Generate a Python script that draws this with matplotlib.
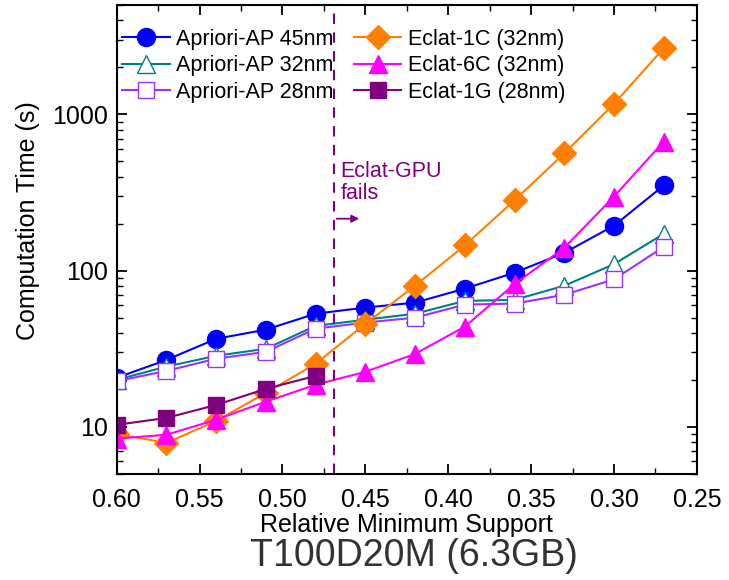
import numpy as np
import matplotlib
matplotlib.use("Agg")
import matplotlib.pyplot as plt
from matplotlib.ticker import NullFormatter, MultipleLocator

plt.rcParams['font.family'] = ['Liberation Sans', 'DejaVu Sans']

support = [0.60, 0.57, 0.54, 0.51, 0.48, 0.45, 0.42, 0.39, 0.36, 0.33, 0.30, 0.27]

apriori_45 = [20.6, 26.8, 36.6, 41.9, 53, 58, 62.4, 76.7, 97, 130, 194, 351]
apriori_32 = [20, 24.3, 28.5, 31.6, 44.3, 48.5, 53, 64, 65, 80, 110, 172]
apriori_28 = [19.6, 22.8, 27.3, 30.2, 42.5, 46.5, 50, 60.6, 61.5, 70, 88, 142]
eclat_1c = [9.0, 7.9, 10.9, 16.5, 25.3, 45.7, 80, 145, 282, 563, 1170, 2650]
eclat_6c = [8.4, 8.9, 11.1, 14.5, 18.6, 22.5, 29.3, 43.8, 82, 140, 298, 670]
support_gpu = [0.60, 0.57, 0.54, 0.51, 0.48]
eclat_1g = [10.3, 11.4, 13.8, 17.5, 21.2]

fig = plt.figure(figsize=(7.29, 5.8), dpi=100)
ax = fig.add_axes([0.160, 0.183, 0.796, 0.808])

ax.plot(support, apriori_45, color='#0000ff', marker='o', markersize=13, lw=1.5,
        label='Apriori-AP 45nm')
ax.plot(support, apriori_32, color='#008080', marker='^', markersize=13, lw=1.5,
        markerfacecolor='white', markeredgecolor='#008080', label='Apriori-AP 32nm')
ax.plot(support, apriori_28, color='#9933ff', marker='s', markersize=11, lw=1.5,
        markerfacecolor='white', markeredgecolor='#9933ff', label='Apriori-AP 28nm')
ax.plot(support, eclat_1c, color='#ff8000', marker='D', markersize=12, lw=1.5,
        label='Eclat-1C (32nm)')
ax.plot(support, eclat_6c, color='#ff00ff', marker='^', markersize=13, lw=1.5,
        label='Eclat-6C (32nm)')
ax.plot(support_gpu, eclat_1g, color='#800080', marker='s', markersize=11, lw=1.5,
        label='Eclat-1G (28nm)')

# Eclat-GPU failure marker
ax.axvline(0.469, color='#800080', ls=(0, (5, 4)), lw=1.5)
ax.text(0.465, 500, 'Eclat-GPU\nfails', color='#800080', fontsize=15.5,
        ha='left', va='top', linespacing=1.05)
ax.annotate('', xy=(0.452, 215), xytext=(0.469, 215),
            arrowprops=dict(arrowstyle='-|>', color='#800080', lw=1.3,
                            mutation_scale=11))

ax.set_yscale('log')
ax.set_xlim(0.60, 0.25)
ax.set_ylim(5, 5000)
ax.set_yticks([10, 100, 1000])
ax.set_yticklabels(['10', '100', '1000'])
ax.yaxis.set_minor_formatter(NullFormatter())
ax.set_xticks(np.arange(0.60, 0.24, -0.05))
ax.set_xticklabels(['0.60', '0.55', '0.50', '0.45', '0.40', '0.35', '0.30', '0.25'])
ax.xaxis.set_minor_locator(MultipleLocator(0.025))

ax.tick_params(which='both', direction='in', top=True, right=True, labelsize=18)
ax.tick_params(which='major', length=7, width=1.3)
ax.tick_params(which='minor', length=4, width=1.0)
ax.tick_params(axis='x', pad=10)
ax.tick_params(axis='y', pad=6)
for s in ax.spines.values():
    s.set_linewidth(1.5)

ax.set_xlabel('Relative Minimum Support', fontsize=18, labelpad=1)
ax.set_ylabel('Computation Time (s)', fontsize=18)
ax.yaxis.set_label_coords(-0.132, 0.54)

ax.legend(ncol=2, frameon=False, fontsize=15.5, loc='upper left',
          bbox_to_anchor=(-0.005, 0.968), handlelength=2.2, handletextpad=0.3,
          columnspacing=0.95, labelspacing=0.26, borderaxespad=0.0)

fig.text(0.568, 0.041, 'T100D20M (6.3GB)', fontsize=27, color='#333333',
         ha='center', va='center')

plt.savefig('out.png', dpi=100)
